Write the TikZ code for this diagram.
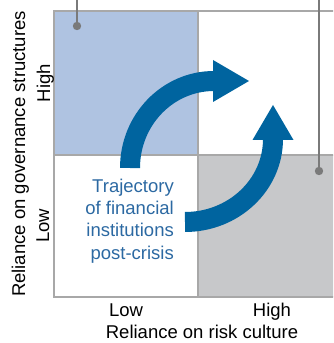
\documentclass[tikz,border=0pt]{standalone}
\usepackage{fontspec}
\setmainfont{Liberation Sans}
\usepackage{xcolor}
\usetikzlibrary{positioning}

\definecolor{arrowblue}{HTML}{00649F}
\definecolor{textblue}{HTML}{2C69A2}
\definecolor{quadblue}{HTML}{AFC3E1}
\definecolor{quadgrey}{HTML}{C7C8CA}
\definecolor{gridgrey}{HTML}{A8A8A8}
\definecolor{pingrey}{HTML}{7A7A7A}

\begin{document}
\begin{tikzpicture}[
    x=1pt, y=1pt,
    lbl/.style={inner sep=0pt, font=\fontsize{18.5}{22.3}\selectfont},
    gridline/.style={draw=gridgrey, line width=1.2pt},
    traj/.style={draw=arrowblue, line width=20pt},
    pin/.style={draw=pingrey, line width=1.3pt}
]
\useasboundingbox (0,0) rectangle (333,343);
\clip (0,0) rectangle (333,343);

% quadrants
\fill[quadblue] (54,188) rectangle (198,332);
\fill[quadgrey] (198,46) rectangle (346,188);
\draw[gridline] (54,46) rectangle (346,332);
\draw[gridline] (198,46) -- (198,332);
\draw[gridline] (54,188) -- (346,188);

% pins
\coordinate (pinAtop) at (77,343);
\coordinate (pinA) at (77,317);
\coordinate (pinBtop) at (319,343);
\coordinate (pinB) at (319,172);
\draw[pin] (pinAtop) -- (pinA);
\fill[pingrey] (pinA) circle (4.2);
\draw[pin] (pinBtop) -- (pinB);
\fill[pingrey] (pinB) circle (4.2);

% trajectory arrows
\draw[traj] (130,175) arc[start angle=180, end angle=90, x radius=84, y radius=87];
\fill[arrowblue] (213,283) -- (249,262) -- (213,241) -- cycle;
\draw[traj] (185,121) arc[start angle=-90, end angle=0, x radius=88, y radius=83];
\fill[arrowblue] (252.5,203) -- (273,238) -- (293.5,203) -- cycle;

\node[lbl, text=textblue, align=right, anchor=east] (traj) at (174,122)
    {Trajectory\\of financial\\institutions\\post-crisis};

% axes
\node[lbl, rotate=90, anchor=base] (ylabel) at (25,189) {Reliance on governance structures};
\node[lbl, rotate=90, anchor=base] (yhigh) at (50,260) {High};
\node[lbl, rotate=90, anchor=base] (ylow) at (49,117) {Low};
\node[lbl, anchor=base] (xlow) at (126,26) {Low};
\node[lbl, anchor=base] (xhigh) at (272,26) {High};
\node[lbl, anchor=base] (xlabel) at (202,5) {Reliance on risk culture};

\end{tikzpicture}
\end{document}
